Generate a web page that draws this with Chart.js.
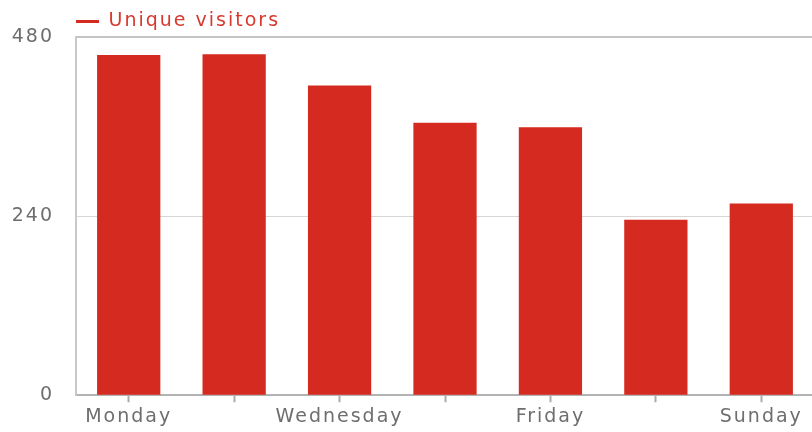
<!DOCTYPE html>
<html>
<head>
<meta charset="utf-8">
<script src="https://cdn.jsdelivr.net/npm/chart.js@4"></script>
<style>
  html, body { margin: 0; padding: 0; background: #fff; overflow: hidden; }
  #wrap { width: 816px; height: 432px; }
</style>
</head>
<body>
<div id="wrap"><canvas id="visChart" width="816" height="432"></canvas></div>
<script>
// data
const days = ['Monday', 'Tuesday', 'Wednesday', 'Thursday', 'Friday', 'Saturday', 'Sunday'];
const visitors = [456, 457, 415, 365, 359, 235, 257];
const yTicks = [0, 240, 480];
const seriesName = 'Unique visitors';

const red = '#d52a1f';
const FONT = { family: '"DejaVu Sans", Verdana, sans-serif', size: 19 };

// the original text is drawn wide, so space the letters out a bit
const wideText = {
  id: 'wideText',
  beforeUpdate(chart) { chart.ctx.letterSpacing = '2px'; },
  beforeDraw(chart) {
    chart.ctx.letterSpacing = '2px';
    // legend sits over the plot's left edge, a little lower than the layout puts it
    chart.legend.left = 76 - chart.options.plugins.legend.labels.padding;
    chart.legend.top = 11;
  }
};

const ctx = document.getElementById('visChart').getContext('2d');
new Chart(ctx, {
  type: 'bar',
  data: {
    labels: days,
    datasets: [{
      label: seriesName,
      data: visitors,
      backgroundColor: red,
      borderWidth: 0,
      barPercentage: 0.6,
      categoryPercentage: 1
    }]
  },
  options: {
    responsive: false,
    animation: false,
    layout: { padding: { left: 0, right: 2, top: 7, bottom: 0 } },
    plugins: {
      tooltip: { enabled: false },
      legend: {
        position: 'top',
        align: 'start',
        labels: {
          font: FONT,
          color: '#d8392f',
          padding: 1,
          usePointStyle: true,
          pointStyle: 'line',
          pointStyleWidth: 23,
          generateLabels(chart) {
            return [{
              text: seriesName,
              fillStyle: red,
              strokeStyle: red,
              lineWidth: 3,
              pointStyle: 'line',
              fontColor: '#d8392f',
              datasetIndex: 0
            }];
          }
        }
      }
    },
    scales: {
      x: {
        offset: true,
        grid: {
          offset: false,
          drawOnChartArea: false,
          drawTicks: true,
          tickLength: 7,
          tickColor: '#aaaaaa',
          tickWidth: 2
        },
        border: { color: '#b3b3b3', width: 2 },
        ticks: {
          autoSkip: false,
          maxRotation: 0,
          padding: 5,
          color: '#6e6e6e',
          font: { ...FONT, lineHeight: 1.04 },
          callback: (v, i) => (i % 2 === 0 ? days[i] : '')
        }
      },
      y: {
        min: yTicks[0],
        max: yTicks[yTicks.length - 1],
        afterBuildTicks: (scale) => { scale.ticks = yTicks.map(v => ({ value: v })); },
        afterFit: (scale) => { scale.width = 76; },
        grid: {
          drawTicks: false,
          color: (c) => (c.tick && c.tick.value === 480 ? '#c4c4c4' : '#d6d6d6'),
          lineWidth: (c) => (c.tick && c.tick.value === 480 ? 2 : 1)
        },
        border: { color: '#c8c8c8', width: 2 },
        ticks: {
          padding: 22,
          color: '#6e6e6e',
          font: FONT
        }
      }
    }
  },
  plugins: [wideText]
});
</script>
</body>
</html>
